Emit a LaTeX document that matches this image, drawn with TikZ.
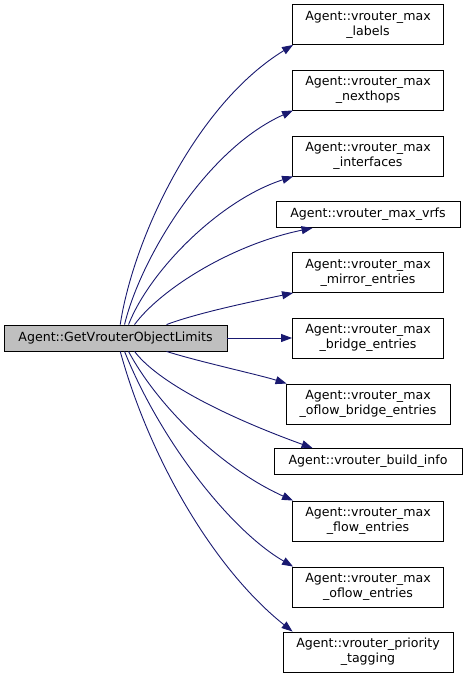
\documentclass[tikz,border=0pt]{standalone}
\usepackage{fontspec}
\setmainfont{DejaVu Sans}
\usetikzlibrary{arrows.meta}
\definecolor{edgeblue}{HTML}{191970}
\definecolor{mainfill}{HTML}{BFBFBF}
\begin{document}
\begin{tikzpicture}[x=1pt,y=-1pt,
  box/.style={draw=black,line width=0.9pt,fill=white,inner sep=0pt,align=center,
    font=\fontsize{12.6}{15}\selectfont,minimum height=40pt},
  one/.style={box,minimum height=26pt},
  mainbox/.style={one,fill=mainfill},
  edge/.style={draw=edgeblue,line width=0.9pt,-{Triangle[length=11pt,width=8pt]}}]
\useasboundingbox (0,0) rectangle (467,677);
\node[mainbox,minimum width=223pt] (main) at (115.5,338) {Agent::GetVrouterObjectLimits};
\node[box,minimum width=151pt] (labels) at (368,24.5) {Agent::vrouter\_max\\\_labels};
\node[box,minimum width=151pt] (nexthops) at (368,90) {Agent::vrouter\_max\\\_nexthops};
\node[box,minimum width=151pt] (interfaces) at (368,156) {Agent::vrouter\_max\\\_interfaces};
\node[one,minimum width=184pt] (vrfs) at (368,214.5) {Agent::vrouter\_max\_vrfs};
\node[box,minimum width=151pt] (mirror) at (368,272.5) {Agent::vrouter\_max\\\_mirror\_entries};
\node[box,minimum width=151pt] (bridge) at (368,338) {Agent::vrouter\_max\\\_bridge\_entries};
\node[box,minimum width=164pt] (obridge) at (368,404) {Agent::vrouter\_max\\\_oflow\_bridge\_entries};
\node[one,minimum width=188pt] (build) at (368,461.5) {Agent::vrouter\_build\_info};
\node[box,minimum width=151pt] (flow) at (368,521) {Agent::vrouter\_max\\\_flow\_entries};
\node[box,minimum width=151pt] (oflow) at (368,587) {Agent::vrouter\_max\\\_oflow\_entries};
\node[box,minimum width=170pt] (prio) at (368,652) {Agent::vrouter\_priority\\\_tagging};

\draw[edge] ([xshift=116.7pt]main.north west) .. controls (133,240) and (195,105) .. ([xshift=1pt]labels.south west);
\draw[edge] ([xshift=121pt]main.north west) .. controls (140,260) and (205,150) .. ([xshift=1pt]nexthops.south west);
\draw[edge] ([xshift=125pt]main.north west) .. controls (150,270) and (220,200) .. ([xshift=1pt]interfaces.south west);
\draw[edge] ([xshift=131pt]main.north west) .. controls (160,290) and (230,245) .. ([xshift=37pt]vrfs.south west);
\draw[edge] ([xshift=163pt]main.north west) .. controls (200,312) and (260,300) .. ([xshift=1pt]mirror.south west);
\draw[edge] (main.east) -- (bridge.west);
\draw[edge] ([xshift=163pt]main.south west) .. controls (200,362) and (260,375) .. ([xshift=1pt]obridge.north west);
\draw[edge] ([xshift=131pt]main.south west) .. controls (160,385) and (235,420) .. ([xshift=39pt]build.north west);
\draw[edge] ([xshift=125pt]main.south west) .. controls (160,410) and (225,470) .. ([xshift=1pt]flow.north west);
\draw[edge] ([xshift=121pt]main.south west) .. controls (160,440) and (230,530) .. ([xshift=1pt]oflow.north west);
\draw[edge] ([xshift=116.7pt]main.south west) .. controls (150,460) and (215,570) .. ([xshift=10pt]prio.north west);
\end{tikzpicture}
\end{document}
